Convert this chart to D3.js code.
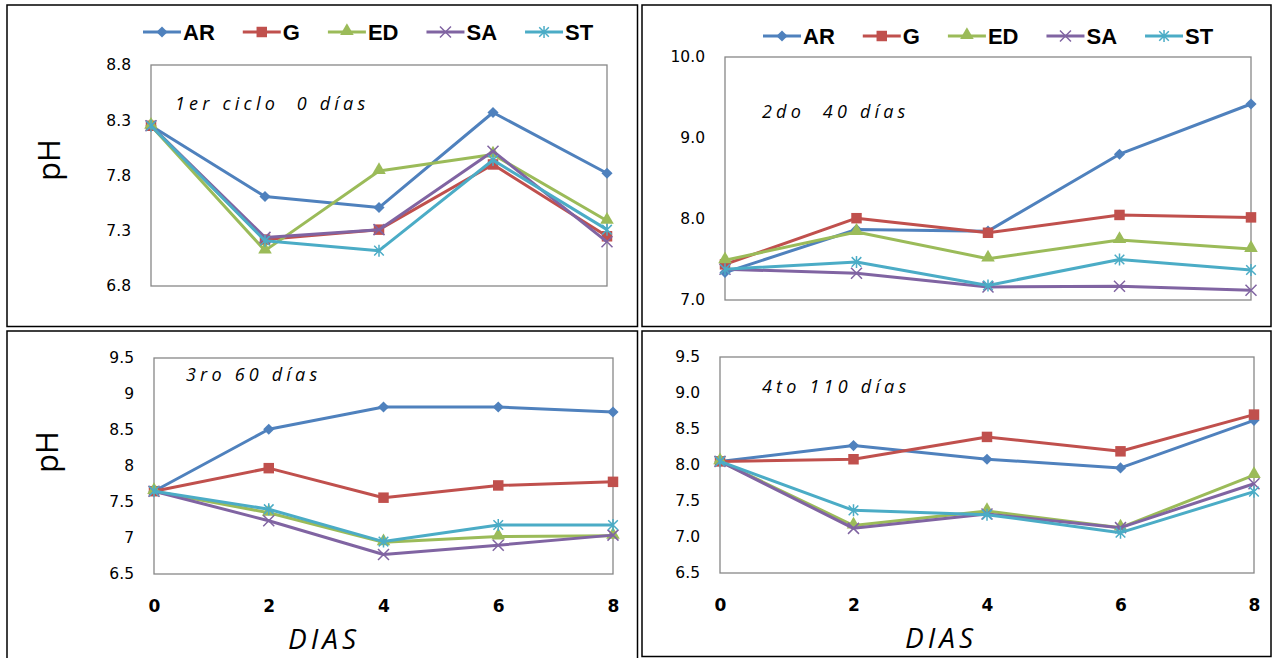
<!DOCTYPE html>
<html>
<head>
<meta charset="utf-8">
<script src="https://cdn.jsdelivr.net/npm/d3@7"></script>
<style>
  html,body{margin:0;padding:0;background:#fff;}
  svg{display:block;}
  .tick-y{font-family:"DejaVu Sans",sans-serif;font-size:15.5px;fill:#000;}
  .tick-x{font-family:"DejaVu Sans",sans-serif;font-weight:bold;font-size:17px;fill:#000;}
  .leg{font-family:"Liberation Sans",Arial,sans-serif;font-weight:bold;font-size:22px;fill:#000;}
  .ttl{font-family:"Open Sans",sans-serif;font-style:italic;font-size:18px;letter-spacing:4.2px;fill:#000;white-space:pre;}
  .axt{font-family:"Open Sans",sans-serif;font-style:italic;font-size:28px;letter-spacing:4px;fill:#000;}
  .ph{font-family:"Open Sans",sans-serif;font-size:31px;fill:#000;}
</style>
</head>
<body>
<svg id="chart" width="1274" height="658"></svg>
<script>
/* ---- datos ---- */
const DIAS = [0, 2, 4, 6, 8];
const SERIES = ["AR", "G", "ED", "SA", "ST"];

const C1_AR = [8.25, 7.61, 7.51, 8.37, 7.82];
const C1_G  = [8.25, 7.22, 7.31, 7.90, 7.25];
const C1_ED = [8.25, 7.12, 7.84, 7.99, 7.39];
const C1_SA = [8.25, 7.24, 7.31, 8.02, 7.20];
const C1_ST = [8.25, 7.21, 7.12, 7.94, 7.31];

const C2_AR = [7.34, 7.87, 7.85, 8.80, 9.42];
const C2_G  = [7.44, 8.01, 7.83, 8.05, 8.02];
const C2_ED = [7.49, 7.84, 7.51, 7.74, 7.63];
const C2_SA = [7.38, 7.33, 7.16, 7.17, 7.12];
const C2_ST = [7.38, 7.47, 7.18, 7.50, 7.37];

const C3_AR = [7.65, 8.51, 8.82, 8.82, 8.75];
const C3_G  = [7.65, 7.97, 7.56, 7.73, 7.78];
const C3_ED = [7.65, 7.35, 6.94, 7.02, 7.03];
const C3_SA = [7.65, 7.24, 6.77, 6.90, 7.04];
const C3_ST = [7.65, 7.40, 6.95, 7.18, 7.18];

const C4_AR = [8.05, 8.27, 8.08, 7.96, 8.62];
const C4_G  = [8.05, 8.08, 8.39, 8.19, 8.70];
const C4_ED = [8.05, 7.16, 7.36, 7.13, 7.86];
const C4_SA = [8.05, 7.12, 7.32, 7.13, 7.74];
const C4_ST = [8.05, 7.37, 7.31, 7.06, 7.63];

const Y1_TICKS = [6.8, 7.3, 7.8, 8.3, 8.8];
const Y2_TICKS = [7, 8, 9, 10];
const Y3_TICKS = [6.5, 7, 7.5, 8, 8.5, 9, 9.5];
const Y4_TICKS = [6.5, 7, 7.5, 8, 8.5, 9, 9.5];

const TITULOS = ["1er ciclo  0 días", "2do  40 días", "3ro 60 días", "4to 110 días"];

/* ---- estilo ---- */
const COLORS = ["#4F81BD", "#C0504D", "#9BBB59", "#8064A2", "#4BACC6"];

const PANELS = [
  { box:[7,5,637.5,326.5], plot:[151,607,65,286], ticks:Y1_TICKS, fmt:d3.format(".1f"),
    vals:[C1_AR,C1_G,C1_ED,C1_SA,C1_ST], title:[175,110], legend:[143,32], ph:[49,160], xaxis:false },
  { box:[642,5,1271,326.5], plot:[725,1251,57,300], ticks:Y2_TICKS, fmt:d3.format(".1f"),
    vals:[C2_AR,C2_G,C2_ED,C2_SA,C2_ST], title:[762,118], legend:[763,36], ph:null, xaxis:false },
  { box:[7,331,637.5,660], plot:[154,613,358,574], ticks:Y3_TICKS, fmt:d => String(d),
    vals:[C3_AR,C3_G,C3_ED,C3_SA,C3_ST], title:[186,381], legend:null, ph:[47,452], xaxis:true, dias:[324,649] },
  { box:[642,331,1271,656.5], plot:[720,1254,357,573], ticks:Y4_TICKS, fmt:d3.format(".1f"),
    vals:[C4_AR,C4_G,C4_ED,C4_SA,C4_ST], title:[762,393], legend:null, ph:null, xaxis:true, dias:[941,648] }
];

const svg = d3.select("#chart");

/* marcadores tipo Excel */
function marker(g, i, x, y, color){
  if(i===0){ // rombo
    g.append("path").attr("d", d3.symbol(d3.symbolSquare, 62)())
      .attr("transform", `translate(${x},${y}) rotate(45)`).attr("fill", color);
  } else if(i===1){ // cuadrado
    g.append("path").attr("d", d3.symbol(d3.symbolSquare, 110)())
      .attr("transform", `translate(${x},${y})`).attr("fill", color);
  } else if(i===2){ // triángulo
    g.append("path").attr("d", d3.symbol(d3.symbolTriangle, 80)())
      .attr("transform", `translate(${x},${y-1})`).attr("fill", color);
  } else if(i===3){ // equis
    const r = 5.5;
    g.append("path").attr("d", `M${-r},${-r}L${r},${r}M${-r},${r}L${r},${-r}`)
      .attr("transform", `translate(${x},${y})`).attr("stroke", color).attr("stroke-width", 1.5).attr("fill","none");
  } else { // asterisco
    const r = 6, a = r*0.8;
    g.append("path").attr("d", `M${-a},${-a}L${a},${a}M${-a},${a}L${a},${-a}M0,${-r}L0,${r}`)
      .attr("transform", `translate(${x},${y})`).attr("stroke", color).attr("stroke-width", 1.5).attr("fill","none");
  }
}

PANELS.forEach((p, pi) => {
  const [bx0, by0, bx1, by1] = p.box;
  svg.append("rect").attr("x", bx0).attr("y", by0).attr("width", bx1-bx0).attr("height", by1-by0)
    .attr("fill", "none").attr("stroke", "#000").attr("stroke-width", 1.5);

  const [x0, x1, y0, y1] = p.plot;
  const x = d3.scalePoint().domain(DIAS).range([x0, x1]);
  const y = d3.scaleLinear().domain(d3.extent(p.ticks)).range([y1, y0]);

  svg.append("rect").attr("x", x0).attr("y", y0).attr("width", x1-x0).attr("height", y1-y0)
    .attr("fill", "none").attr("stroke", "#878787").attr("stroke-width", 1.3);

  /* eje Y */
  const ya = svg.append("g").attr("transform", `translate(${x0},0)`)
    .call(d3.axisLeft(y).tickValues(p.ticks).tickFormat(p.fmt).tickSize(0).tickPadding(20));
  ya.select(".domain").remove();
  ya.selectAll("text").attr("class", "tick-y").attr("font-family", null).attr("font-size", null);

  /* eje X */
  if(p.xaxis){
    const xa = svg.append("g").attr("transform", `translate(0,${y1})`)
      .call(d3.axisBottom(x).tickSize(0).tickPadding(26));
    xa.select(".domain").remove();
    xa.selectAll("text").attr("class", "tick-x").attr("font-family", null).attr("font-size", null);
    svg.append("text").attr("class", "axt").attr("x", p.dias[0]).attr("y", p.dias[1])
      .attr("text-anchor", "middle").text("DIAS");
  }

  /* series */
  const line = d3.line().x((d, j) => x(DIAS[j])).y(d => y(d));
  SERIES.forEach((s, i) => {
    const g = svg.append("g");
    g.append("path").datum(p.vals[i]).attr("d", line)
      .attr("fill", "none").attr("stroke", COLORS[i]).attr("stroke-width", 3).attr("stroke-linejoin", "round");
    p.vals[i].forEach((v, j) => marker(g, i, x(DIAS[j]), y(v), COLORS[i]));
  });

  /* título del ciclo */
  svg.append("text").attr("class", "ttl").attr("x", p.title[0]).attr("y", p.title[1]).text(TITULOS[pi]);

  /* etiqueta pH */
  if(p.ph){
    svg.append("text").attr("class", "ph")
      .attr("transform", `translate(${p.ph[0]},${p.ph[1]}) rotate(-90)`)
      .attr("text-anchor", "middle").attr("dy", "0.35em").text("pH");
  }

  /* leyenda */
  if(p.legend){
    let lx = p.legend[0];
    const ly = p.legend[1];
    SERIES.forEach((s, i) => {
      const g = svg.append("g");
      g.append("line").attr("x1", lx).attr("x2", lx+38).attr("y1", ly).attr("y2", ly)
        .attr("stroke", COLORS[i]).attr("stroke-width", 3);
      marker(g, i, lx+19, ly, COLORS[i]);
      const t = g.append("text").attr("class", "leg").attr("x", lx+40).attr("y", ly).attr("dy", "0.36em").text(s);
      lx += 40 + t.node().getComputedTextLength() + 28;
    });
  }
});
</script>
</body>
</html>
